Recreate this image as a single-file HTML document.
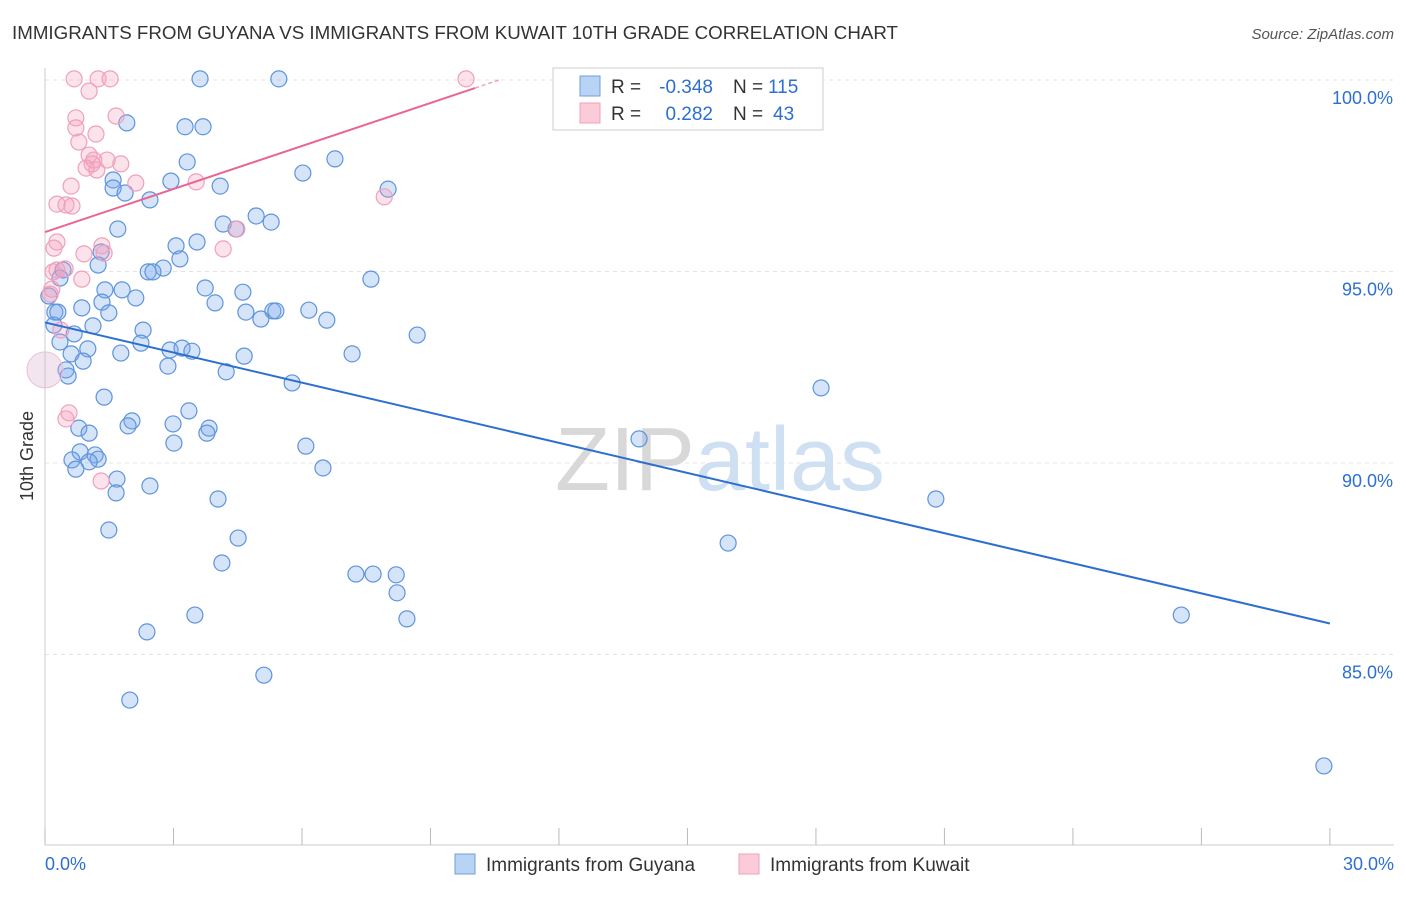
<!DOCTYPE html>
<html><head><meta charset="utf-8"><style>
body{margin:0;background:#fff;font-family:"Liberation Sans",sans-serif;}
svg text{font-family:"Liberation Sans",sans-serif;}
</style></head><body>
<svg id="chart" width="1406" height="892">
<text x="12" y="39" font-size="18" fill="#333" textLength="886" lengthAdjust="spacingAndGlyphs">IMMIGRANTS FROM GUYANA VS IMMIGRANTS FROM KUWAIT 10TH GRADE CORRELATION CHART</text>
<text x="1394" y="39" font-size="15" fill="#555" font-style="italic" text-anchor="end">Source: ZipAtlas.com</text>
<text transform="translate(33,456) rotate(-90)" font-size="18" fill="#333" text-anchor="middle">10th Grade</text>
<g id="grid"></g><g id="ticks"></g>
<text x="720" y="490" font-size="90" fill="#ddd" text-anchor="middle" font-family="Liberation Serif"><tspan fill="#d8d8d8">ZIP</tspan><tspan fill="#cfe0f3" font-family="Liberation Sans">atlas</tspan></text>
<g id="pts"></g><g id="lines"></g>
<g>
<rect x="553" y="68" width="270" height="62" fill="#fff" stroke="#ccc"/>
<rect x="580" y="76" width="20" height="20" fill="#b9d3f5" stroke="#6a9fe0"/>
<rect x="580" y="103" width="20" height="20" fill="#fbcbd9" stroke="#f0a0bb"/>
<text x="611" y="93" font-size="19" fill="#333">R =</text>
<text x="713" y="93" font-size="19" fill="#2d6fd0" text-anchor="end">-0.348</text>
<text x="733" y="93" font-size="19" fill="#333">N =</text>
<text x="768" y="93" font-size="19" fill="#2d6fd0">115</text>
<text x="611" y="120" font-size="19" fill="#333">R =</text>
<text x="713" y="120" font-size="19" fill="#2d6fd0" text-anchor="end">0.282</text>
<text x="733" y="120" font-size="19" fill="#333">N =</text>
<text x="773" y="120" font-size="19" fill="#2d6fd0">43</text>
</g>
<g>
<rect x="455" y="854" width="20" height="20" fill="#b9d3f5" stroke="#6a9fe0"/>
<text x="486" y="871" font-size="19" fill="#333">Immigrants from Guyana</text>
<rect x="739" y="854" width="20" height="20" fill="#fbcbd9" stroke="#f0a0bb"/>
<text x="770" y="871" font-size="19" fill="#333">Immigrants from Kuwait</text>
</g>
</svg>
<script>
const yTicks=[100,95,90,85];
const xTickLabels=["0.0%","30.0%"];
const guyanaX=[3.62,5.46,1.91,3.27,3.69,3.32,6.77,6.02,2.94,1.59,4.09,8.01,1.59,1.87,2.45,4.93,5.28,4.16,4.46,1.70,3.55,3.06,1.31,3.15,2.76,2.41,2.52,1.24,0.42,0.35,7.61,3.74,4.62,1.40,1.80,2.12,3.97,1.33,0.09,0.86,0.23,1.49,4.69,5.32,5.39,6.16,5.04,6.58,0.21,1.12,2.29,8.69,0.68,0.35,2.24,1.00,2.92,3.20,3.43,1.77,4.65,7.17,0.61,0.89,2.87,4.23,0.49,0.54,5.77,18.12,1.38,3.36,2.03,1.94,2.99,3.83,0.79,1.03,3.78,3.01,6.09,13.87,0.82,1.17,0.63,1.24,1.03,0.72,6.49,1.68,1.66,2.45,4.04,20.80,1.49,4.51,15.95,4.13,7.26,7.66,8.20,8.22,26.53,3.50,8.45,2.38,5.11,1.98,29.86,0.30];
const guyanaY=[100.03,100.03,98.88,98.78,98.78,97.86,97.94,97.57,97.36,97.39,97.23,97.15,97.18,97.05,96.87,96.45,96.29,96.24,96.11,96.11,95.77,95.67,95.51,95.33,95.09,94.99,94.99,95.17,95.04,94.83,94.80,94.57,94.46,94.52,94.52,94.31,94.18,94.20,94.36,94.05,93.94,93.92,93.94,93.97,93.97,93.99,93.76,93.73,93.60,93.58,93.47,93.34,93.37,93.16,93.13,92.98,92.95,93.00,92.92,92.87,92.79,92.85,92.85,92.66,92.53,92.38,92.43,92.27,92.09,91.96,91.72,91.36,91.10,90.97,91.02,90.91,90.91,90.78,90.78,90.52,90.44,90.63,90.29,90.21,90.08,90.10,90.03,89.84,89.87,89.58,89.22,89.40,89.06,89.06,88.25,88.04,87.91,87.39,87.10,87.10,87.08,86.61,86.03,86.03,85.93,85.59,84.46,83.81,82.09,93.94];
const kuwaitX=[0.68,1.24,1.52,9.83,1.03,0.72,1.66,0.72,1.19,0.79,1.03,1.14,1.10,1.77,1.45,0.96,1.21,2.12,3.53,0.61,7.92,0.28,0.49,0.63,4.48,0.28,1.33,0.21,0.91,1.38,4.16,0.47,0.19,0.86,0.16,0.12,0.37,0.56,0.49,1.31,0.28];
const kuwaitY=[100.03,100.03,100.03,100.03,99.71,99.01,99.06,98.75,98.59,98.38,98.04,97.91,97.81,97.81,97.91,97.70,97.65,97.31,97.34,97.23,96.95,96.76,96.74,96.71,96.11,95.77,95.67,95.61,95.46,95.48,95.59,95.07,94.99,94.80,94.54,94.41,93.47,91.31,91.15,89.53,95.04];
const kuwaitBig=[0.0,92.43];
const guyanaTrend=[93.67,85.81];
const kuwaitTrend=[96.03,99.79,10.04];
const NS="http://www.w3.org/2000/svg";
const sx=v=>45+v*42.83, sy=v=>80+(100-v)*38.3;
function mk(tag,attrs,parent){const e=document.createElementNS(NS,tag);for(const k in attrs)e.setAttribute(k,attrs[k]);document.getElementById(parent).appendChild(e);return e;}
yTicks.forEach(t=>{
 const l=mk('line',{x1:45,x2:1394,y1:sy(t),y2:sy(t),stroke:'#e4e4e4','stroke-dasharray':'4,4'},'grid');
 
 
 const tx=mk('text',{x:1393,y:sy(t)+24,'font-size':18,fill:'#2d6fd0','text-anchor':'end'},'grid');tx.textContent=t.toFixed(1)+'%';
 
 
});
mk('line',{x1:45,x2:45,y1:68,y2:845,stroke:'#ccc'},'ticks');
mk('line',{x1:45,x2:1394,y1:845,y2:845,stroke:'#ccc'},'ticks');
for(let i=0;i<=10;i++){const l=mk('line',{x1:sx(i*3),x2:sx(i*3),y1:828,y2:845,stroke:'#bbb'},'ticks');
 
 }
[[0,'start'],[30,'end']].forEach((p,i)=>{const t=mk('text',{x:i?1394:45,y:870,'font-size':18,fill:'#2d6fd0','text-anchor':p[1]},'ticks');t.textContent=xTickLabels[i];
 
 });
guyanaX.forEach((x,i)=>{const c=mk('circle',{cx:sx(x),cy:sy(guyanaY[i]),r:8,fill:'rgba(120,165,235,0.3)',stroke:'#5d94dc','stroke-width':1.2},'pts');
 
 });
kuwaitX.forEach((x,i)=>{const c=mk('circle',{cx:sx(x),cy:sy(kuwaitY[i]),r:8,fill:'rgba(245,160,190,0.3)',stroke:'#f0a0bb','stroke-width':1.2},'pts');
 
 });
const big=mk('circle',{cx:sx(kuwaitBig[0]),cy:sy(kuwaitBig[1]),r:18,fill:'rgba(220,180,210,0.35)',stroke:'#e8c0d4'},'pts');


const bl=mk('line',{x1:sx(0),y1:sy(guyanaTrend[0]),x2:sx(30),y2:sy(guyanaTrend[1]),stroke:'#2d6fd0','stroke-width':2},'lines');


const pl=mk('line',{x1:sx(0),y1:sy(kuwaitTrend[0]),x2:sx(kuwaitTrend[2]),y2:sy(kuwaitTrend[1]),stroke:'#e8668f','stroke-width':2},'lines');


const slope=(kuwaitTrend[1]-kuwaitTrend[0])/kuwaitTrend[2];
const pd=mk('line',{x1:sx(kuwaitTrend[2]),y1:sy(kuwaitTrend[1]),x2:sx(10.6),y2:sy(kuwaitTrend[0]+slope*10.6),stroke:'#f0a0bb','stroke-width':1.5,'stroke-dasharray':'4,3'},'lines');


</script>
</body></html>
